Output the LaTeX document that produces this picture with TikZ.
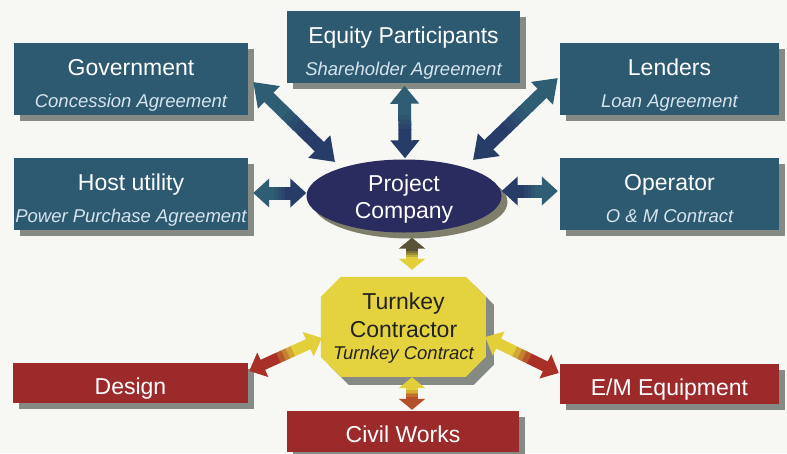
\documentclass[tikz,border=0pt]{standalone}
\usepackage{fontspec}
\setmainfont{Liberation Sans}
\usetikzlibrary{calc,shapes.geometric,arrows.meta}
\definecolor{bg}{HTML}{F7F7F4}
\definecolor{boxblue}{HTML}{2D5A70}
\definecolor{navyell}{HTML}{2A2B5E}
\definecolor{arrnavy}{HTML}{283C68}
\definecolor{arrteal}{HTML}{2F5E74}
\definecolor{boxred}{HTML}{9C2A2B}
\definecolor{octyellow}{HTML}{E4D33F}
\definecolor{arryellow}{HTML}{E2CF3A}
\definecolor{arrred}{HTML}{A83028}
\definecolor{arrdark}{HTML}{5A5236}
\definecolor{shgray}{HTML}{858A85}
\definecolor{ellsh}{HTML}{7E7E6A}
\definecolor{subtxt}{HTML}{D6E4EE}
\definecolor{octtxt}{HTML}{222222}
\newcommand\gradconn[7]{%
  \draw[line width=#7, color=#3, {Triangle[length=#5,width=#6]}-] (#1) -- ($(#1)!0.41!(#2)$);
  \draw[line width=#7, color=#3!75!#4] ($(#1)!0.4!(#2)$) -- ($(#1)!0.48!(#2)$);
  \draw[line width=#7, color=#3!50!#4] ($(#1)!0.47!(#2)$) -- ($(#1)!0.54!(#2)$);
  \draw[line width=#7, color=#3!25!#4] ($(#1)!0.53!(#2)$) -- ($(#1)!0.61!(#2)$);
  \draw[line width=#7, color=#4, -{Triangle[length=#5,width=#6]}] ($(#1)!0.6!(#2)$) -- (#2);
}
% shadow of a box: centre x, centre y, width, height
\newcommand\boxshade[4]{%
  \fill[shgray] ({#1-#3/2+6},{#2-#4/2+6}) rectangle ({#1+#3/2+6},{#2+#4/2+6});
}
\begin{document}
\begin{tikzpicture}[x=1pt,y=-1pt,
  bluebox/.style={fill=boxblue, minimum width=#1, minimum height=72pt, inner sep=0},
  redbox/.style={fill=boxred, minimum width=#1, minimum height=40pt, inner sep=0},
  ttl/.style={anchor=base, text=white, font=\fontsize{23}{27}\selectfont, inner sep=0},
  sub/.style={anchor=base, text=subtxt, font=\fontsize{18.5}{22}\selectfont\itshape, inner sep=0},
  octt/.style={anchor=base, text=octtxt, font=\fontsize{23}{27}\selectfont, inner sep=0},
  octs/.style={anchor=base, text=octtxt, font=\fontsize{18.5}{22}\selectfont\itshape, inner sep=0}]
\useasboundingbox (0,0) rectangle (787,453);
\fill[bg] (0,0) rectangle (787,453);

% box shadows
\boxshade{131}{79}{234}{72}
\boxshade{403.5}{46.5}{233}{72}
\boxshade{669.5}{79}{219}{72}
\boxshade{131}{193.5}{234}{72}
\boxshade{669.5}{194}{219}{72}
\boxshade{130.5}{383}{235}{40}
\boxshade{669.5}{383.5}{219}{40}
\boxshade{403}{431.5}{232}{41}

% boxes
\node[bluebox=234pt] (gov) at (131,79) {};
\node[bluebox=233pt] (eq) at (403.5,46.5) {};
\node[bluebox=219pt] (len) at (669.5,79) {};
\node[bluebox=234pt] (host) at (131,193.5) {};
\node[bluebox=219pt] (op) at (669.5,194) {};
\node[redbox=235pt] (des) at (130.5,383) {};
\node[redbox=219pt] (em) at (669.5,383.5) {};
\node[redbox=232pt, minimum height=41pt] (civ) at (403,431.5) {};

% project company ellipse
\fill[ellsh] (410,202) ellipse [x radius=97.5pt, y radius=36.5pt];
\node[ellipse, fill=navyell, minimum width=195pt, minimum height=73pt, inner sep=0] (pc) at (404,196) {};

% turnkey octagon
\node[minimum width=165pt, minimum height=100pt, inner sep=0] (tk) at (403.5,327) {};
\fill[shgray] ($(tk.north west)+(28,8)$) -- ++(125,0) -- ++(20,20) -- ++(0,60) -- ++(-20,20)
  -- ++(-125,0) -- ++(-20,-20) -- ++(0,-60) -- cycle;
\fill[octyellow] ($(tk.north west)+(20,0)$) -- ++(125,0) -- ++(20,20) -- ++(0,60) -- ++(-20,20)
  -- ++(-125,0) -- ++(-20,-20) -- ++(0,-60) -- cycle;

% connector end points
\coordinate (gS) at ($(gov.east)+(5,3)$);
\coordinate (gE) at ($(pc.center)+(-69,-34)$);
\coordinate (eS) at ($(eq.south)+(1,3)$);
\coordinate (eE) at ($(pc.north)+(1,-1)$);
\coordinate (lS) at ($(len.west)+(-2,-1)$);
\coordinate (lE) at ($(pc.center)+(69,-36)$);
\coordinate (hS) at ($(host.east)+(5,-0.5)$);
\coordinate (hE) at ($(pc.west)+(0,-3)$);
\coordinate (oS) at ($(op.west)+(-2,-3)$);
\coordinate (oE) at ($(pc.east)+(0,-5)$);
\coordinate (tS) at ($(pc.south)+(8,5)$);
\coordinate (tE) at ($(tk.north)+(8.5,-7)$);
\coordinate (bS) at ($(tk.south)+(8.5,0)$);
\coordinate (bE) at ($(civ.north)+(9,-1)$);
\coordinate (dS) at ($(tk.west)+(1,11)$);
\coordinate (dE) at ($(des.east)+(1,-12)$);
\coordinate (mS) at ($(tk.east)+(-1,10)$);
\coordinate (mE) at ($(em.west)+(-1,-10.5)$);

% connectors
\gradconn{gS}{gE}{arrteal}{arrnavy}{22pt}{30pt}{13pt}
\gradconn{eS}{eE}{arrteal}{arrnavy}{18pt}{28pt}{13pt}
\gradconn{lS}{lE}{arrteal}{arrnavy}{22pt}{30pt}{13pt}
\gradconn{hS}{hE}{arrteal}{arrnavy}{16pt}{28pt}{13pt}
\gradconn{oS}{oE}{arrteal}{arrnavy}{16pt}{28pt}{13pt}
\gradconn{tS}{tE}{arrdark}{arryellow}{11pt}{26pt}{12pt}
\gradconn{bS}{bE}{arryellow}{arrred!80!arryellow}{11pt}{26pt}{12pt}
\gradconn{dS}{dE}{arryellow}{arrred}{15pt}{26pt}{11pt}
\gradconn{mS}{mE}{arryellow}{arrred}{15pt}{26pt}{11pt}

% texts
\node[ttl] (govT) at ($(gov.north)+(0,33)$) {Government};
\node[sub] (govS) at ($(gov.north)+(0,65)$) {Concession Agreement};
\node[ttl] (eqT) at ($(eq.north)+(0,33)$) {Equity Participants};
\node[sub] (eqS) at ($(eq.north)+(0,65)$) {Shareholder Agreement};
\node[ttl] (lenT) at ($(len.north)+(0,33)$) {Lenders};
\node[sub] (lenS) at ($(len.north)+(0,65)$) {Loan Agreement};
\node[ttl] (hostT) at ($(host.north)+(0,33)$) {Host utility};
\node[sub] (hostS) at ($(host.north)+(0,65)$) {Power Purchase Agreement};
\node[ttl] (opT) at ($(op.north)+(0,33)$) {Operator};
\node[sub] (opS) at ($(op.north)+(0,65)$) {O \& M Contract};
\node[ttl] (pcT1) at ($(pc.center)+(0,-5)$) {Project};
\node[ttl] (pcT2) at ($(pc.center)+(0,22)$) {Company};
\node[octt] (tkT1) at ($(tk.north)+(0,33)$) {Turnkey};
\node[octt] (tkT2) at ($(tk.north)+(0,61)$) {Contractor};
\node[octs] (tkS) at ($(tk.north)+(0,83)$) {Turnkey Contract};
\node[ttl] (desT) at ($(des.north)+(0,32)$) {Design};
\node[ttl] (emT) at ($(em.north)+(0,32)$) {E/M Equipment};
\node[ttl] (civT) at ($(civ.north)+(0,32)$) {Civil Works};
\end{tikzpicture}
\end{document}
